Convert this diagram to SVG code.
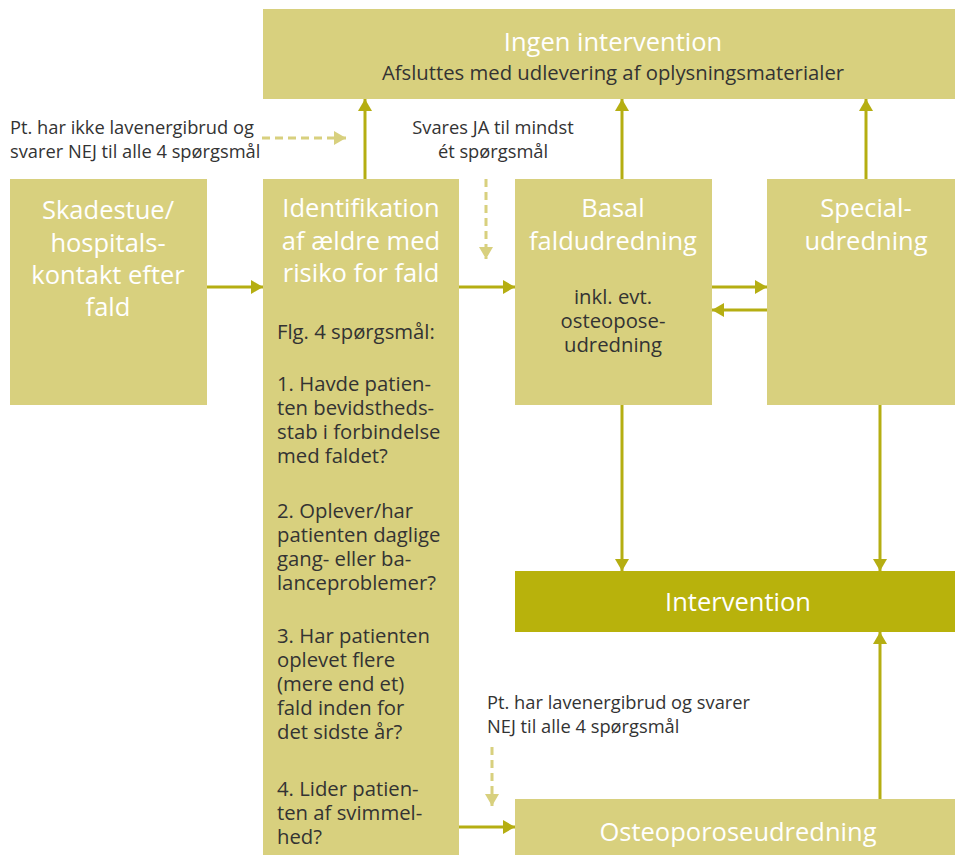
<svg xmlns="http://www.w3.org/2000/svg" width="955" height="855" viewBox="0 0 955 855">
<defs>
<style>
.box{fill:#d8d07e}
.dark{fill:#b8b20c}
.t{font-family:"Open Sans",Lato,"Liberation Sans",sans-serif}
.big{font-size:25.5px;fill:#ffffff;text-anchor:middle}
.body{font-size:20.3px;fill:#333333}
.lbl{font-size:18.3px;fill:#333333}
.c{text-anchor:middle}
.sol{stroke:#b5ae12;stroke-width:3;fill:none}
.dash{stroke:#d8d07e;stroke-width:3;fill:none;stroke-dasharray:8 5}
</style>
<marker id="ah" viewBox="0 0 12 14" refX="12" refY="7" markerWidth="12" markerHeight="14" markerUnits="userSpaceOnUse" orient="auto">
<path d="M0,0 L12,7 L0,14 Z" fill="#b5ae12"/>
</marker>
<marker id="ahd" viewBox="0 0 12 14" refX="12" refY="7" markerWidth="12" markerHeight="14" markerUnits="userSpaceOnUse" orient="auto">
<path d="M0,0 L12,7 L0,14 Z" fill="#d8d07e"/>
</marker>
</defs>
<rect width="955" height="855" fill="#ffffff"/>

<g id="connectors">
<line class="sol" x1="207" y1="287" x2="263" y2="287" marker-end="url(#ah)"/>
<line class="sol" x1="365" y1="179" x2="365" y2="99" marker-end="url(#ah)"/>
<line class="sol" x1="622" y1="179" x2="622" y2="99" marker-end="url(#ah)"/>
<line class="sol" x1="866" y1="179" x2="866" y2="99" marker-end="url(#ah)"/>
<line class="sol" x1="459" y1="287" x2="515" y2="287" marker-end="url(#ah)"/>
<line class="sol" x1="712" y1="287" x2="767" y2="287" marker-end="url(#ah)"/>
<line class="sol" x1="767" y1="310" x2="712" y2="310" marker-end="url(#ah)"/>
<line class="sol" x1="622" y1="405" x2="622" y2="571" marker-end="url(#ah)"/>
<line class="sol" x1="880" y1="405" x2="880" y2="571" marker-end="url(#ah)"/>
<line class="sol" x1="880" y1="799" x2="880" y2="632" marker-end="url(#ah)"/>
<line class="sol" x1="459" y1="827" x2="515" y2="827" marker-end="url(#ah)"/>
<line class="dash" x1="262" y1="138" x2="346" y2="138" marker-end="url(#ahd)"/>
<line class="dash" x1="486" y1="179" x2="486" y2="259" marker-end="url(#ahd)"/>
<line class="dash" x1="492" y1="747" x2="492" y2="806" marker-end="url(#ahd)"/>
</g>

<g id="ingen">
<rect class="box" x="263" y="9" width="692" height="90"/>
<text class="t big" x="613" y="51">Ingen intervention</text>
<text class="t body c" x="613" y="80">Afsluttes med udlevering af oplysningsmaterialer</text>
</g>

<g id="skadestue">
<rect class="box" x="10" y="179" width="197" height="226"/>
<text class="t big" x="108" y="219">Skadestue/</text>
<text class="t big" x="108" y="252">hospitals-</text>
<text class="t big" x="108" y="284">kontakt efter</text>
<text class="t big" x="108" y="316">fald</text>
</g>

<g id="identifikation">
<rect class="box" x="263" y="179" width="196" height="676"/>
<text class="t big" x="361" y="217">Identifikation</text>
<text class="t big" x="361" y="250">af ældre med</text>
<text class="t big" x="361" y="282">risiko for fald</text>
<text class="t body" x="277" y="339">Flg. 4 spørgsmål:</text>
<text class="t body" x="277" y="391">1. Havde patien-</text>
<text class="t body" x="277" y="415">ten bevidstheds-</text>
<text class="t body" x="277" y="439">stab i forbindelse</text>
<text class="t body" x="277" y="463">med faldet?</text>
<text class="t body" x="277" y="518">2. Oplever/har</text>
<text class="t body" x="277" y="542">patienten daglige</text>
<text class="t body" x="277" y="566">gang- eller ba-</text>
<text class="t body" x="277" y="590">lanceproblemer?</text>
<text class="t body" x="277" y="643">3. Har patienten</text>
<text class="t body" x="277" y="667">oplevet flere</text>
<text class="t body" x="277" y="691">(mere end et)</text>
<text class="t body" x="277" y="715">fald inden for</text>
<text class="t body" x="277" y="739">det sidste år?</text>
<text class="t body" x="277" y="796">4. Lider patien-</text>
<text class="t body" x="277" y="820">ten af svimmel-</text>
<text class="t body" x="277" y="844">hed?</text>
</g>

<g id="basal">
<rect class="box" x="515" y="179" width="197" height="226"/>
<text class="t big" x="613" y="217">Basal</text>
<text class="t big" x="613" y="250">faldudredning</text>
<text class="t body c" x="613" y="304">inkl. evt.</text>
<text class="t body c" x="613" y="328">osteopose-</text>
<text class="t body c" x="613" y="352">udredning</text>
</g>

<g id="special">
<rect class="box" x="767" y="179" width="188" height="226"/>
<text class="t big" x="866" y="217">Special-</text>
<text class="t big" x="866" y="250">udredning</text>
</g>

<g id="intervention">
<rect class="dark" x="515" y="571" width="440" height="61"/>
<text class="t big" x="738" y="611">Intervention</text>
</g>

<g id="osteoporose">
<rect class="box" x="515" y="799" width="440" height="56"/>
<text class="t big" x="738" y="841">Osteoporoseudredning</text>
</g>

<g id="labels">
<text class="t lbl" x="10" y="134">Pt. har ikke lavenergibrud og</text>
<text class="t lbl" x="10" y="158">svarer NEJ til alle 4 spørgsmål</text>
<text class="t lbl c" x="493" y="134">Svares JA til mindst</text>
<text class="t lbl c" x="493" y="158">ét spørgsmål</text>
<text class="t lbl" x="487" y="709">Pt. har lavenergibrud og svarer</text>
<text class="t lbl" x="487" y="733">NEJ til alle 4 spørgsmål</text>
</g>
</svg>
